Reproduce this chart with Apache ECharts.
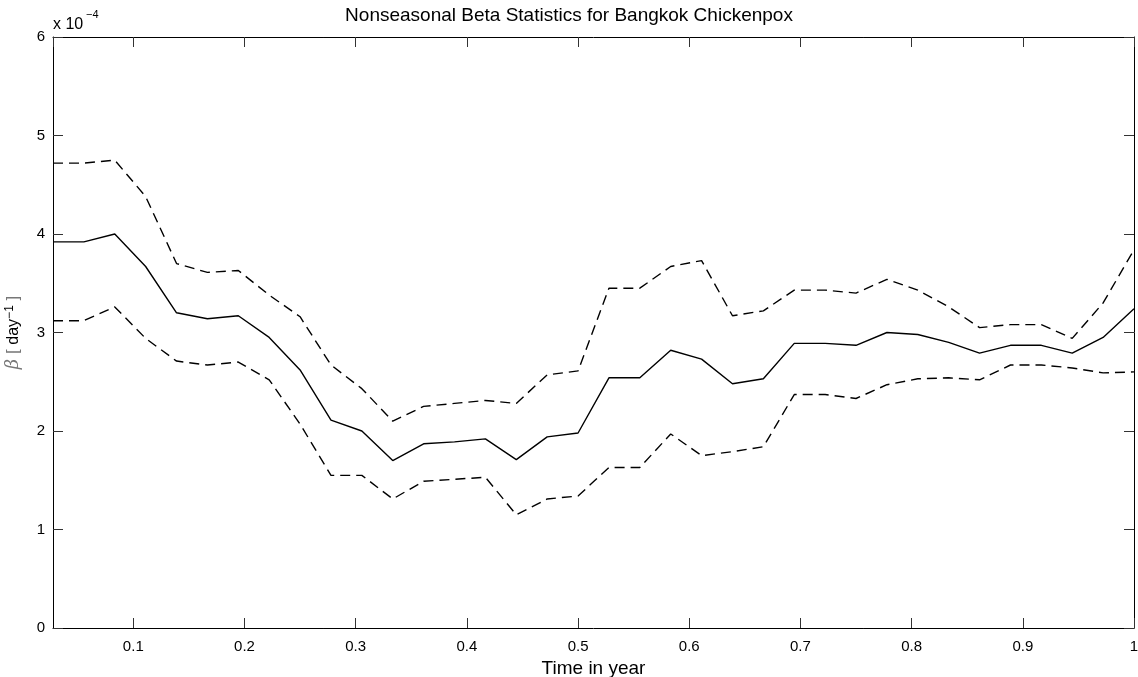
<!DOCTYPE html>
<html>
<head>
<meta charset="utf-8">
<title>Nonseasonal Beta Statistics for Bangkok Chickenpox</title>
<script src="https://cdn.jsdelivr.net/npm/echarts@6/dist/echarts.min.js"></script>
<style>
  html, body { margin: 0; padding: 0; background: #fff; }
  #chart { width: 1138px; height: 677px; }
</style>
</head>
<body>
<div id="chart"></div>
<script>
// Time of year (fraction), one sample every 1/36 year
var timeYears = [0.02778, 0.05556, 0.08333, 0.11111, 0.13889, 0.16667, 0.19444, 0.22222, 0.25,
                 0.27778, 0.30556, 0.33333, 0.36111, 0.38889, 0.41667, 0.44444, 0.47222, 0.5,
                 0.52778, 0.55556, 0.58333, 0.61111, 0.63889, 0.66667, 0.69444, 0.72222, 0.75,
                 0.77778, 0.80556, 0.83333, 0.86111, 0.88889, 0.91667, 0.94444, 0.97222, 1.0];

// Transmission rate beta, in units of 1e-4 per day
var betaMean  = [3.92, 3.92, 4.00, 3.67, 3.20, 3.14, 3.17, 2.95, 2.62,
                 2.11, 2.00, 1.70, 1.87, 1.89, 1.92, 1.71, 1.94, 1.98,
                 2.54, 2.54, 2.82, 2.73, 2.48, 2.53, 2.89, 2.89, 2.87,
                 3.00, 2.98, 2.90, 2.79, 2.87, 2.87, 2.79, 2.95, 3.24];
var betaUpper = [4.72, 4.72, 4.75, 4.38, 3.70, 3.61, 3.63, 3.38, 3.16,
                 2.67, 2.43, 2.10, 2.25, 2.28, 2.31, 2.28, 2.57, 2.61,
                 3.45, 3.45, 3.67, 3.73, 3.17, 3.22, 3.43, 3.43, 3.40,
                 3.54, 3.43, 3.26, 3.05, 3.08, 3.08, 2.94, 3.30, 3.84];
var betaLower = [3.12, 3.12, 3.26, 2.94, 2.71, 2.67, 2.70, 2.52, 2.07,
                 1.55, 1.55, 1.31, 1.49, 1.51, 1.53, 1.15, 1.31, 1.34,
                 1.63, 1.63, 1.97, 1.75, 1.79, 1.84, 2.37, 2.37, 2.33,
                 2.47, 2.53, 2.54, 2.52, 2.67, 2.67, 2.64, 2.59, 2.60];

var yTicks = [0, 1, 2, 3, 4, 5, 6];

function pairs(xs, ys) {
  return xs.map(function (x, i) { return [x, ys[i]]; });
}

var FONT = '"Liberation Sans", Arial, Helvetica, sans-serif';
var chart = echarts.init(document.getElementById('chart'), null, { renderer: 'canvas' });

var boxLine = { show: true, onZero: false, lineStyle: { color: '#000', width: 1 } };
var inTick = { show: true, inside: true, length: 10, lineStyle: { color: '#333', width: 1 } };

var xBase = {
  type: 'value',
  min: timeYears[0],
  max: timeYears[timeYears.length - 1],
  splitNumber: 10,
  axisLine: boxLine,
  axisTick: inTick,
  splitLine: { show: false }
};
var yBase = {
  type: 'value',
  min: yTicks[0],
  max: yTicks[yTicks.length - 1],
  interval: 1,
  axisLine: boxLine,
  axisTick: inTick,
  splitLine: { show: false }
};

chart.setOption({
  animation: false,
  backgroundColor: '#fff',
  title: {
    text: 'Nonseasonal Beta Statistics for Bangkok Chickenpox',
    left: 'center',
    top: 1,
    textStyle: { fontFamily: FONT, fontSize: 19, fontWeight: 'normal', color: '#000' }
  },
  grid: { left: 53, right: 4, top: 37, bottom: 49, containLabel: false, outerBoundsMode: 'none' },
  xAxis: [
    Object.assign({}, xBase, {
      position: 'bottom',
      name: 'Time in year',
      nameLocation: 'middle',
      nameGap: 26,
      nameTextStyle: { fontFamily: FONT, fontSize: 19, color: '#000' },
      axisLabel: {
        show: true, showMinLabel: false, margin: 11,
        fontFamily: FONT, fontSize: 15, color: '#000'
      }
    }),
    Object.assign({}, xBase, { position: 'top', axisLabel: { show: false } })
  ],
  yAxis: [
    Object.assign({}, yBase, {
      position: 'left',
      name: '{b|\u03b2}{g| [ }{d|day}{s|\u22121}{g| ]}',
      nameLocation: 'middle',
      nameRotate: 90,
      nameGap: 30,
      nameTextStyle: {
        fontFamily: FONT, fontSize: 16, color: '#000',
        rich: {
          b: { fontFamily: '"DejaVu Serif", serif', fontStyle: 'italic', fontSize: 18, color: '#777' },
          g: { fontFamily: FONT, fontSize: 17, color: '#777' },
          d: { fontFamily: FONT, fontSize: 16, color: '#000' },
          s: { fontFamily: FONT, fontSize: 12, color: '#000', verticalAlign: 'top', padding: [0, 0, 7, 0] }
        }
      },
      axisLabel: { show: true, margin: 8, fontFamily: FONT, fontSize: 15, color: '#000' }
    }),
    Object.assign({}, yBase, { position: 'right', axisLabel: { show: false } })
  ],
  graphic: [
    {
      type: 'text', left: 53, top: 17,
      style: { text: 'x 10', fontFamily: FONT, fontSize: 16, fill: '#000' }
    },
    {
      type: 'text', left: 86, top: 9,
      style: { text: '\u22124', fontFamily: FONT, fontSize: 11, fill: '#000' }
    }
  ],
  series: [
    {
      name: 'upper', type: 'line', xAxisIndex: 0, yAxisIndex: 0,
      data: pairs(timeYears, betaUpper), showSymbol: false, symbol: 'none',
      lineStyle: { color: '#000', width: 1.4, type: [10, 6] }
    },
    {
      name: 'mean', type: 'line', xAxisIndex: 0, yAxisIndex: 0,
      data: pairs(timeYears, betaMean), showSymbol: false, symbol: 'none',
      lineStyle: { color: '#000', width: 1.4, type: 'solid' }
    },
    {
      name: 'lower', type: 'line', xAxisIndex: 0, yAxisIndex: 0,
      data: pairs(timeYears, betaLower), showSymbol: false, symbol: 'none',
      lineStyle: { color: '#000', width: 1.4, type: [10, 6] }
    }
  ]
});
</script>
</body>
</html>
